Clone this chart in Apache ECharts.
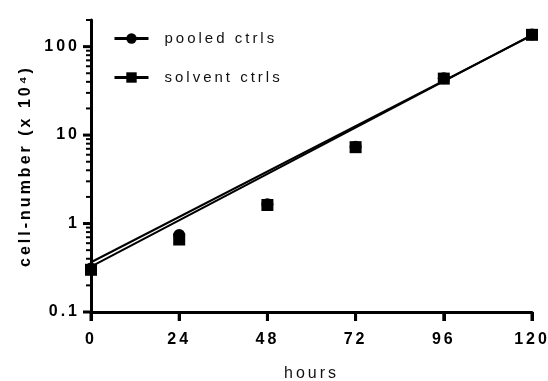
<!DOCTYPE html>
<html>
<head>
<meta charset="utf-8">
<script src="https://cdn.jsdelivr.net/npm/echarts@6/dist/echarts.min.js"></script>
<style>
  html, body { margin: 0; padding: 0; background: #fff; }
  #main { width: 548px; height: 381px; }
</style>
</head>
<body>
<div id="main"></div>
<script>
// measured points (cell number x 10^4)
const hours = [0, 24, 48, 72, 96, 120];
const pooled = [0.31, 0.74, 1.65, 7.4, 44, 137];
const solvent = [0.30, 0.66, 1.62, 7.3, 43.5, 136];

// exponential fits, straight on the log axis
const fitHours = [0, 120];
const fitPooled = [0.365, 134];
const fitSolvent = [0.325, 136];

// tick values
const xTicks = [0, 24, 48, 72, 96, 120];
const yLabels = [0.1, 1, 10, 100];
const yMinor = [0.2, 0.3, 0.4, 0.5, 0.6, 0.7, 0.8, 0.9,
  2, 3, 4, 5, 6, 7, 8, 9,
  20, 30, 40, 50, 60, 70, 80, 90, 200];

const font = 'Liberation Sans, Arial, sans-serif';

const zip = (xs, ys) => xs.map((x, i) => [x, ys[i]]);

// the original uses wide letter spacing on all text
const origFillText = CanvasRenderingContext2D.prototype.fillText;
CanvasRenderingContext2D.prototype.fillText = function () {
  this.letterSpacing = '3px';
  return origFillText.apply(this, arguments);
};

const chart = echarts.init(document.getElementById('main'), null, { renderer: 'canvas' });

const option = {
  animation: false,
  backgroundColor: '#fff',
  grid: { left: 91, right: 16, top: 20, bottom: 69, outerBoundsMode: 'none' },
  legend: {
    orient: 'vertical',
    left: 113,
    top: 31,
    padding: 0,
    itemWidth: 34,
    itemHeight: 13,
    itemGap: 24,
    data: ['pooled ctrls', 'solvent ctrls'],
    lineStyle: { width: 3, opacity: 1, color: '#000' },
    textStyle: { fontFamily: font, fontSize: 15, color: '#111', padding: [0, 0, 0, 11] },
  },
  xAxis: {
    type: 'value',
    min: 0,
    max: 120,
    interval: 24,
    name: 'hours',
    nameLocation: 'middle',
    nameGap: 54,
    nameTextStyle: { fontFamily: font, fontSize: 16, color: '#111', verticalAlign: 'top' },
    axisLine: { show: true, lineStyle: { color: '#000', width: 3 } },
    axisTick: { show: true, length: 9, lineStyle: { color: '#000', width: 3 } },
    axisLabel: { fontFamily: font, fontSize: 16, fontWeight: 'bold', color: '#000', margin: 20 },
    splitLine: { show: false },
  },
  yAxis: {
    type: 'log',
    logBase: 10,
    min: 0.1,
    max: 200,
    name: 'cell-number (x 10⁴)',
    nameLocation: 'middle',
    nameGap: 57,
    nameTextStyle: { fontFamily: font, fontSize: 16, fontWeight: 'bold', color: '#000' },
    axisLine: { show: true, lineStyle: { color: '#000', width: 3 } },
    axisTick: { show: false },
    axisLabel: {
      fontFamily: font, fontSize: 16, fontWeight: 'bold', color: '#000', margin: 11,
      customValues: yLabels,
      formatter: v => String(v),
    },
    splitLine: { show: false },
  },
  series: [
    {
      type: 'line',
      silent: true,
      clip: false,
      symbol: 'none',
      data: zip(fitHours, fitPooled),
      lineStyle: { color: '#000', width: 2 },
      z: 2,
    },
    {
      type: 'line',
      silent: true,
      clip: false,
      symbol: 'none',
      data: zip(fitHours, fitSolvent),
      lineStyle: { color: '#000', width: 2 },
      z: 2,
    },
    {
      name: 'pooled ctrls',
      type: 'line',
      clip: false,
      symbol: 'circle',
      symbolSize: 12,
      data: zip(hours, pooled),
      itemStyle: { color: '#000' },
      lineStyle: { opacity: 0 },
      z: 3,
    },
    {
      name: 'solvent ctrls',
      type: 'line',
      clip: false,
      symbol: 'rect',
      symbolSize: 12,
      data: zip(hours, solvent),
      itemStyle: { color: '#000' },
      lineStyle: { opacity: 0 },
      z: 4,
    },
  ],
};

chart.setOption(option);

// ticks placed through the chart's own scales
function tickLine(p, dx, dy, width) {
  return {
    type: 'line',
    silent: true,
    z: 100,
    shape: { x1: p[0], y1: p[1], x2: p[0] + dx, y2: p[1] + dy },
    style: { stroke: '#000', lineWidth: width },
  };
}
const ticks = [];
yLabels.forEach(v => ticks.push(tickLine(chart.convertToPixel({ gridIndex: 0 }, [0, v]), -8, 0, 3)));
yMinor.forEach(v => ticks.push(tickLine(chart.convertToPixel({ gridIndex: 0 }, [0, v]), -5, 0, 2)));
xTicks.forEach(v => ticks.push(tickLine(chart.convertToPixel({ gridIndex: 0 }, [v, 0.1]), 0, 9, 3)));
chart.setOption({ graphic: ticks });
</script>
</body>
</html>
